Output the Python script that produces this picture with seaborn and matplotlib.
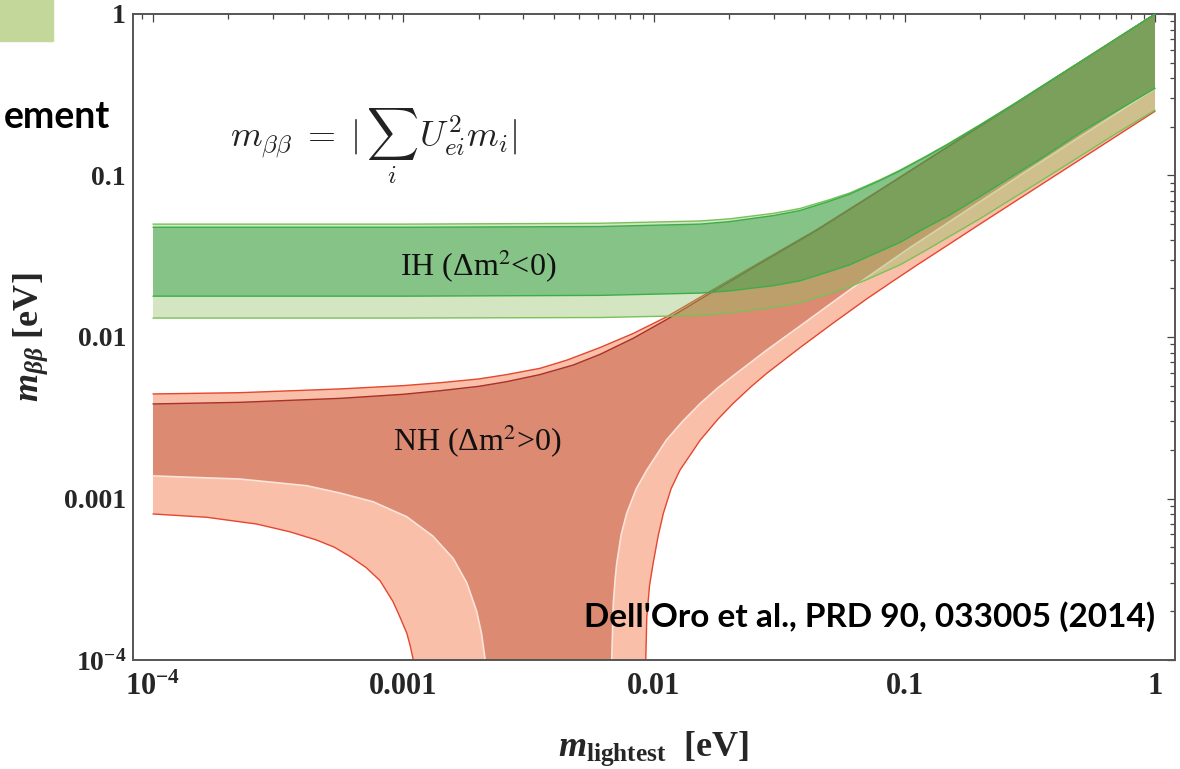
import numpy as np
import pandas as pd
import matplotlib
matplotlib.use("Agg")
import matplotlib.pyplot as plt
import seaborn as sns
from matplotlib import font_manager as fm
from matplotlib.ticker import FixedLocator, FixedFormatter, LogLocator, NullFormatter
from matplotlib.patches import Rectangle

# ---------------- data ----------------
# Normal hierarchy, 3 sigma band
nh3_up_x = [1e-4, 2.22e-4, 5.58e-4, 1.0e-3, 1.40e-3, 2.0e-3, 2.58e-3, 3.51e-3, 4.5e-3, 6.08e-3, 8.24e-3,
            1.12e-2, 1.66e-2, 2.6e-2, 4.47e-2, 7.98e-2, 0.147, 0.272, 0.5, 1.0]
nh3_up_y = [4.44e-3, 4.52e-3, 4.77e-3, 5.0e-3, 5.21e-3, 5.5e-3, 5.85e-3, 6.4e-3, 7.2e-3, 8.6e-3, 1.05e-2,
            1.33e-2, 1.9e-2, 2.85e-2, 4.63e-2, 8.15e-2, 0.149, 0.274, 0.502, 1.0]
nh3_loL_x = [1e-4, 1.64e-4, 2.59e-4, 3.52e-4, 4.50e-4, 5.3e-4, 6.11e-4, 7.1e-4, 8.06e-4, 9.08e-4, 9.6e-4,
             1.03e-3, 1.06e-3, 1.09e-3, 1.12e-3, 1.18e-3, 1.23e-3]
nh3_loL_y = [8.02e-4, 7.65e-4, 6.95e-4, 6.22e-4, 5.53e-4, 4.99e-4, 4.38e-4, 3.73e-4, 3.1e-4, 2.3e-4, 1.9e-4,
             1.47e-4, 1.25e-4, 1.03e-4, 8e-5, 4e-5, 1e-6]
nh3_loR_x = [9.15e-3, 9.2e-3, 9.27e-3, 9.36e-3, 9.6e-3, 9.93e-3, 1.04e-2, 1.09e-2, 1.17e-2, 1.27e-2, 1.53e-2,
             1.8e-2, 2.07e-2, 2.45e-2, 2.82e-2, 3.83e-2, 5.19e-2, 7.06e-2, 0.09, 0.115, 0.147, 0.2, 0.272, 0.5, 1.0]
nh3_loR_y = [1e-6, 4e-5, 1.0e-4, 1.85e-4, 2.9e-4, 4.0e-4, 5.9e-4, 8.1e-4, 1.15e-3, 1.5e-3, 2.3e-3,
             3.1e-3, 3.88e-3, 4.95e-3, 5.96e-3, 8.6e-3, 1.22e-2, 1.72e-2, 2.22e-2, 2.86e-2, 3.66e-2, 5.0e-2, 6.8e-2, 0.125, 0.25]

# Normal hierarchy, best fit band
nhb_up_x = [1e-4, 2.22e-4, 5.58e-4, 1.0e-3, 1.40e-3, 2.0e-3, 2.58e-3, 3.5e-3, 4.75e-3, 6.08e-3, 8.24e-3,
            1.12e-2, 1.66e-2, 2.6e-2, 4.47e-2, 7.98e-2, 0.147, 0.272, 0.5, 1.0]
nhb_up_y = [3.85e-3, 3.94e-3, 4.17e-3, 4.42e-3, 4.65e-3, 4.95e-3, 5.29e-3, 5.85e-3, 6.7e-3, 7.8e-3, 9.8e-3,
            1.28e-2, 1.85e-2, 2.8e-2, 4.58e-2, 8.1e-2, 0.1485, 0.2735, 0.501, 0.998]
nhb_loL_x = [1e-4, 2.22e-4, 4.11e-4, 5.6e-4, 7.56e-4, 1.03e-3, 1.31e-3, 1.58e-3, 1.79e-3, 1.96e-3, 2.05e-3,
             2.11e-3, 2.16e-3, 2.2e-3, 2.22e-3]
nhb_loL_y = [1.38e-3, 1.32e-3, 1.20e-3, 1.08e-3, 9.55e-4, 7.71e-4, 5.85e-4, 4.25e-4, 3.0e-4, 2.0e-4, 1.45e-4,
             1.05e-4, 7e-5, 3e-5, 1e-6]
nhb_loR_x = [6.7e-3, 6.72e-3, 6.78e-3, 6.88e-3, 7.0e-3, 7.10e-3, 7.4e-3, 7.78e-3, 8.5e-3, 9.36e-3, 1.12e-2,
             1.3e-2, 1.53e-2, 1.8e-2, 2.07e-2, 2.82e-2, 3.83e-2, 5.19e-2, 7.06e-2, 0.105, 0.172, 0.3, 0.5, 1.0]
nhb_loR_y = [1e-6, 4e-5, 1.0e-4, 2.25e-4, 3.2e-4, 3.97e-4, 6.0e-4, 8.1e-4, 1.15e-3, 1.5e-3, 2.3e-3,
             3.0e-3, 3.88e-3, 4.85e-3, 5.75e-3, 8.3e-3, 1.17e-2, 1.65e-2, 2.33e-2, 3.57e-2, 5.9e-2, 0.104, 0.173, 0.345]

# Inverted hierarchy, 3 sigma band
ih3_up_x = [1e-4, 1e-3, 6.08e-3, 1.53e-2, 2.0e-2, 3.0e-2, 3.83e-2, 5.0e-2, 6.05e-2, 7.0e-2, 7.98e-2, 9.6e-2,
            0.12, 0.147, 0.2, 0.272, 0.35, 0.5, 0.7, 1.0]
ih3_up_y = [0.0500, 0.0500, 0.0506, 0.0523, 0.0539, 0.0583, 0.0625, 0.0707, 0.0780, 0.0860, 0.0940, 0.108,
            0.130, 0.155, 0.206, 0.276, 0.354, 0.503, 0.702, 1.0]
ih3_lo_x = [1e-4, 1e-3, 6.08e-3, 1.53e-2, 2.0e-2, 3.0e-2, 3.83e-2, 5.0e-2, 6.05e-2, 7.0e-2, 9.6e-2, 0.12,
            0.2, 0.35, 0.7, 1.0]
ih3_lo_y = [0.0131, 0.0131, 0.0132, 0.0136, 0.0141, 0.0153, 0.0163, 0.0185, 0.0205, 0.0225, 0.0280, 0.0340,
            0.0540, 0.0925, 0.182, 0.254]

# Inverted hierarchy, best fit band
ihb_up_x = [1e-4, 1e-3, 6.08e-3, 1.53e-2, 2.0e-2, 3.0e-2, 3.83e-2, 5.0e-2, 6.05e-2, 7.0e-2, 7.98e-2, 9.6e-2,
            0.12, 0.147, 0.2, 0.272, 0.35, 0.5, 0.7, 1.0]
ihb_up_y = [0.0478, 0.0478, 0.0483, 0.0500, 0.0518, 0.0565, 0.0607, 0.0692, 0.0767, 0.0850, 0.0930, 0.107,
            0.129, 0.154, 0.205, 0.275, 0.353, 0.502, 0.701, 0.998]
ihb_lo_x = [1e-4, 1e-3, 6.08e-3, 1.53e-2, 2.0e-2, 3.0e-2, 3.83e-2, 5.0e-2, 6.05e-2, 7.0e-2, 9.6e-2, 0.12,
            0.152, 0.2, 0.281, 0.35, 0.516, 0.7, 1.0]
ihb_lo_y = [0.0179, 0.0179, 0.0181, 0.0187, 0.0193, 0.0208, 0.0223, 0.0254, 0.0280, 0.0310, 0.0385, 0.0470,
            0.0570, 0.0740, 0.103, 0.127, 0.189, 0.250, 0.347]

tick_values = [1e-4, 1e-3, 1e-2, 1e-1, 1.0]
tick_labels = [r"$10^{-4}$", "0.001", "0.01", "0.1", "1"]

# ---------------- style ----------------
sns.set_theme(style="white")
plt.rcParams["font.family"] = ["Liberation Serif", "DejaVu Serif"]
plt.rcParams["mathtext.fontset"] = "custom"
plt.rcParams["mathtext.rm"] = "Liberation Serif:bold"
plt.rcParams["mathtext.bf"] = "Liberation Serif:bold"
plt.rcParams["mathtext.it"] = "Liberation Serif:italic:bold"

W, H = 1180, 769
fig = plt.figure(figsize=(W / 100, H / 100), dpi=100)
fig.patch.set_facecolor("white")
ax = fig.add_axes([133 / W, 1 - 660 / H, (1175 - 133) / W, (660 - 14) / H])
ax.set_xscale("log")
ax.set_yscale("log")
ax.set_facecolor("white")


def band(ux, uy, lx, ly):
    xs = list(ux) + list(lx)[::-1]
    ys = list(uy) + list(ly)[::-1]
    return xs, ys


def nh_band(ux, uy, rx, ry, lx, ly):
    xs = list(ux) + list(rx)[::-1] + list(lx)[::-1]
    ys = list(uy) + list(ry)[::-1] + list(ly)[::-1]
    return xs, ys


def edge(x, y, color, lw=1.0, z=3):
    sns.lineplot(x=x, y=y, sort=False, estimator=None, ax=ax, color=color,
                 linewidth=lw, legend=False, zorder=z)


# NH bands
xs, ys = nh_band(nh3_up_x, nh3_up_y, nh3_loR_x, nh3_loR_y, nh3_loL_x, nh3_loL_y)
ax.fill(xs, ys, color="#f9bfa8", lw=0, zorder=1)
xs, ys = nh_band(nhb_up_x, nhb_up_y, nhb_loR_x, nhb_loR_y, nhb_loL_x, nhb_loL_y)
ax.fill(xs, ys, color="#dc8a72", lw=0, zorder=1.5)
edge(nh3_up_x, nh3_up_y, "#e5462f", 1.0, 2)
edge(nh3_loL_x, nh3_loL_y, "#e5462f", 1.0, 2)
edge(nh3_loR_x, nh3_loR_y, "#e5462f", 1.0, 2)
edge(nhb_up_x, nhb_up_y, "#a8322a", 1.0, 2)
edge(nhb_loL_x, nhb_loL_y, "#fbe4da", 1.2, 2)
edge(nhb_loR_x, nhb_loR_y, "#fbe4da", 1.2, 2)

# IH bands (translucent)
xs, ys = band(ih3_up_x, ih3_up_y, ih3_lo_x, ih3_lo_y)
ax.fill(xs, ys, color="#8ec160", alpha=0.39, lw=0, zorder=3)
xs, ys = band(ihb_up_x, ihb_up_y, ihb_lo_x, ihb_lo_y)
ax.fill(xs, ys, color="#39a14f", alpha=0.5, lw=0, zorder=3.5)
edge(ih3_up_x, ih3_up_y, "#79c159", 1.0, 4)
edge(ih3_lo_x, ih3_lo_y, "#79c159", 1.0, 4)
edge(ihb_up_x, ihb_up_y, "#3bae4a", 1.0, 4)
edge(ihb_lo_x, ihb_lo_y, "#3bae4a", 1.0, 4)

# axes
ax.set_xlim(10 ** -4.0798, 10 ** 0.0798)
ax.set_ylim(1e-4, 1.0)
for axis in (ax.xaxis, ax.yaxis):
    axis.set_major_locator(FixedLocator(tick_values))
    axis.set_major_formatter(FixedFormatter(tick_labels))
    axis.set_minor_locator(LogLocator(base=10, subs=np.arange(2, 10), numticks=30))
    axis.set_minor_formatter(NullFormatter())
ax.tick_params(which="both", direction="in", top=True, right=True, color="#444444", width=0.9)
ax.tick_params(which="major", length=6)
ax.tick_params(which="minor", length=3.5)
ax.tick_params(axis="x", which="major", labelsize=22, pad=9)
ax.tick_params(axis="y", which="major", labelsize=20, pad=5)
for lab in ax.get_xticklabels() + ax.get_yticklabels():
    lab.set_fontweight("bold")
for sp in ax.spines.values():
    sp.set_color("#555555")
    sp.set_linewidth(1.4)
ax.grid(False)

ax.set_xlabel(r"$m_{\mathrm{lightest}}$  [eV]", fontsize=26, fontweight="bold", labelpad=20)
ax.set_ylabel(r"$m_{\beta\beta}$ [eV]", fontsize=26, fontweight="bold", labelpad=10)

# annotations
fig.text(230 / W, 1 - 106 / H, r"$m_{\beta\beta}\;=\;|\,\sum_i\, U_{ei}^2 m_i|$",
         fontsize=26, math_fontfamily="cm", ha="left", va="top", color="#222222")
fig.text(400 / W, 1 - 266 / H, r"IH (Δm$^2$<0)", fontsize=23, math_fontfamily="stix",
         ha="left", va="center", color="#111111", zorder=10)
fig.text(393 / W, 1 - 441 / H, r"NH (Δm$^2$>0)", fontsize=23, math_fontfamily="stix",
         ha="left", va="center", color="#111111", zorder=10)
fig.text(1155 / W, 1 - 617 / H, "Dell'Oro et al., PRD 90, 033005 (2014)", fontsize=24,
         family=["Lato", "DejaVu Sans"], fontweight="bold", ha="right", va="center", color="black")

# slide remnants at top-left
installed = {f.name for f in fm.fontManager.ttflist}
if "Liberation Sans Narrow" in installed:
    frag_family, frag_size = ["Liberation Sans Narrow", "DejaVu Sans"], 32
else:
    frag_family, frag_size = ["Lato", "DejaVu Sans"], 27
fig.patches.append(Rectangle((0, 1 - 40.7 / H), 52.7 / W, 40.7 / H, transform=fig.transFigure,
                             color="#c4d79b", zorder=0))
fig.text(110 / W, 1 - 128 / H, "ement", fontsize=frag_size, family=frag_family,
         fontweight="bold", ha="right", va="baseline", color="black")

fig.savefig("out.png", dpi=100, facecolor="white")
